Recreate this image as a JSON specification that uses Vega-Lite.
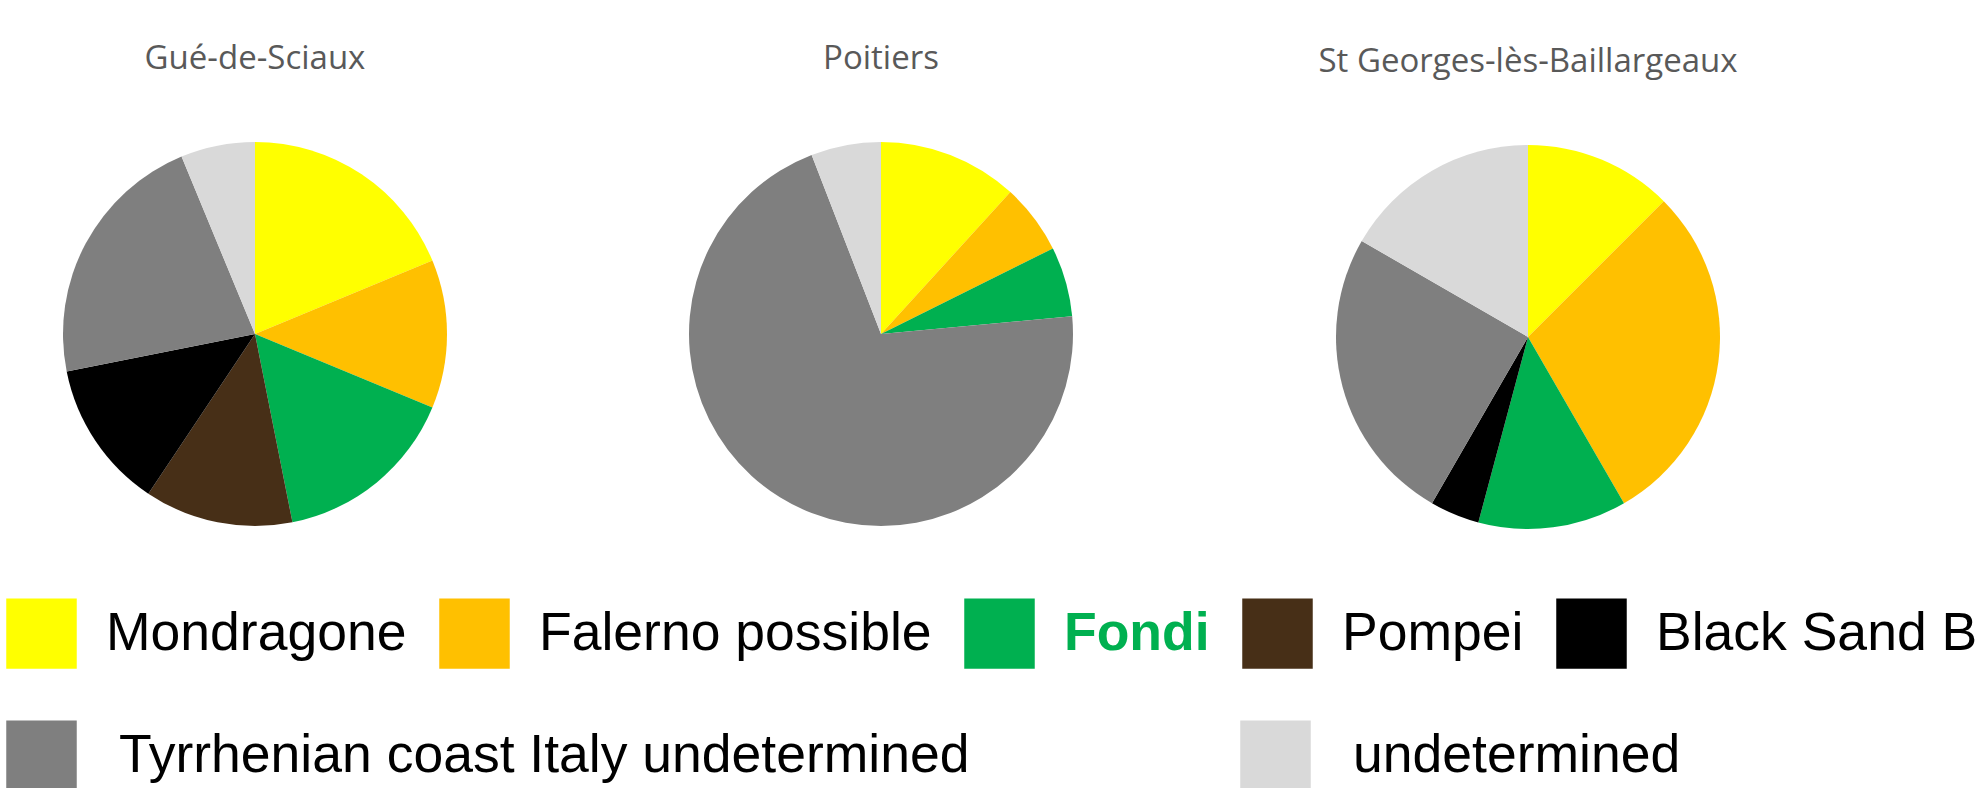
{
  "$schema": "https://vega.github.io/schema/vega-lite/v6.json",
  "padding": {"left": 0, "top": 43, "right": 0, "bottom": 0},
  "background": "white",
  "datasets": {
    "amph": [
      {"site": "Gué-de-Sciaux", "source": "Mondragone", "k": 1, "n": 6},
      {"site": "Gué-de-Sciaux", "source": "Falerno possible", "k": 2, "n": 4},
      {"site": "Gué-de-Sciaux", "source": "Fondi", "k": 3, "n": 5},
      {"site": "Gué-de-Sciaux", "source": "Pompei", "k": 4, "n": 4},
      {"site": "Gué-de-Sciaux", "source": "Black Sand B", "k": 5, "n": 4},
      {"site": "Gué-de-Sciaux", "source": "Tyrrhenian coast Italy undetermined", "k": 6, "n": 7},
      {"site": "Gué-de-Sciaux", "source": "undetermined", "k": 7, "n": 2},
      {"site": "Poitiers", "source": "Mondragone", "k": 1, "n": 2},
      {"site": "Poitiers", "source": "Falerno possible", "k": 2, "n": 1},
      {"site": "Poitiers", "source": "Fondi", "k": 3, "n": 1},
      {"site": "Poitiers", "source": "Tyrrhenian coast Italy undetermined", "k": 6, "n": 12},
      {"site": "Poitiers", "source": "undetermined", "k": 7, "n": 1},
      {"site": "St Georges-lès-Baillargeaux", "source": "Mondragone", "k": 1, "n": 3},
      {"site": "St Georges-lès-Baillargeaux", "source": "Falerno possible", "k": 2, "n": 7},
      {"site": "St Georges-lès-Baillargeaux", "source": "Fondi", "k": 3, "n": 3},
      {"site": "St Georges-lès-Baillargeaux", "source": "Black Sand B", "k": 5, "n": 1},
      {"site": "St Georges-lès-Baillargeaux", "source": "Tyrrhenian coast Italy undetermined", "k": 6, "n": 6},
      {"site": "St Georges-lès-Baillargeaux", "source": "undetermined", "k": 7, "n": 4}
    ]
  },
  "config": {
    "view": {"stroke": "transparent"},
    "title": {"font": "Open Sans", "fontSize": 33, "fontWeight": "normal", "color": "#595959", "offset": 66, "anchor": "middle"}
  },
  "spacing": 0,
  "resolve": {"scale": {"color": "shared"}, "legend": {"color": "shared"}},
  "hconcat": [
    {
      "width": 510, "height": 384,
      "title": {"text": "Gué-de-Sciaux"},
      "data": {"name": "amph"},
      "transform": [{"filter": "datum.site === 'Gué-de-Sciaux'"}],
      "layer": [
        {
          "mark": {"type": "arc", "radius": 192},
          "encoding": {
            "theta": {"field": "n", "type": "quantitative", "stack": true},
            "order": {"field": "k", "type": "quantitative"},
            "color": {"field": "source", "type": "nominal",
              "scale": {"domain": ["Mondragone", "Falerno possible", "Fondi", "Pompei", "Black Sand B", "Tyrrhenian coast Italy undetermined", "undetermined"],
                        "range": ["#FFFF00", "#FFC000", "#00B050", "#472F17", "#000000", "#7F7F7F", "#D9D9D9"]},
              "legend": {
                "title": null, "orient": "none", "legendX": 6, "legendY": 456,
                "values": ["Mondragone", "Falerno possible", "Fondi", "Pompei", "Black Sand B"],
                "columns": 5, "direction": "horizontal",
                "symbolType": "square", "symbolSize": 4970, "symbolStrokeWidth": 0, "symbolOpacity": 1,
                "labelFont": "Liberation Sans", "labelFontSize": 53.5, "labelColor": "#000000",
                "labelOffset": 29, "labelLimit": 3000, "columnPadding": 32, "rowPadding": 51,
                "encode": {
                  "labels": {"update": {
                    "fill": {"signal": "datum.label === 'Fondi' ? '#00B050' : '#000000'"},
                    "fontWeight": {"signal": "datum.label === 'Fondi' ? 'bold' : 'normal'"}
                  }}
                }
              }
            }
          }
        },
        {
          "transform": [{"filter": "datum.k >= 6"}],
          "mark": {"type": "arc", "radius": 192, "opacity": 0},
          "encoding": {
            "theta": {"field": "n", "type": "quantitative", "stack": true},
            "order": {"field": "k", "type": "quantitative"},
            "fill": {"field": "source", "type": "nominal",
              "scale": {"domain": ["Tyrrhenian coast Italy undetermined", "undetermined"],
                        "range": ["#7F7F7F", "#D9D9D9"]},
              "legend": {
                "title": null, "orient": "none", "legendX": 6, "legendY": 578,
                "columns": 2, "direction": "horizontal",
                "symbolType": "square", "symbolSize": 4970, "symbolStrokeWidth": 0, "symbolOpacity": 1,
                "labelFont": "Liberation Sans", "labelFontSize": 53.5, "labelColor": "#000000",
                "labelOffset": 42, "labelLimit": 3000, "columnPadding": 270
              }
            }
          }
        }
      ]
    },
    {
      "width": 742, "height": 384,
      "title": {"text": "Poitiers"},
      "data": {"name": "amph"},
      "transform": [{"filter": "datum.site === 'Poitiers'"}],
      "mark": {"type": "arc", "radius": 192},
      "encoding": {
        "theta": {"field": "n", "type": "quantitative", "stack": true},
        "order": {"field": "k", "type": "quantitative"},
        "color": {"field": "source", "type": "nominal"}
      }
    },
    {
      "width": 552, "height": 390,
      "title": {"text": "St Georges-lès-Baillargeaux", "offset": 63},
      "data": {"name": "amph"},
      "transform": [{"filter": "datum.site === 'St Georges-lès-Baillargeaux'"}],
      "mark": {"type": "arc", "radius": 192},
      "encoding": {
        "theta": {"field": "n", "type": "quantitative", "stack": true},
        "order": {"field": "k", "type": "quantitative"},
        "color": {"field": "source", "type": "nominal"}
      }
    }
  ]
}
